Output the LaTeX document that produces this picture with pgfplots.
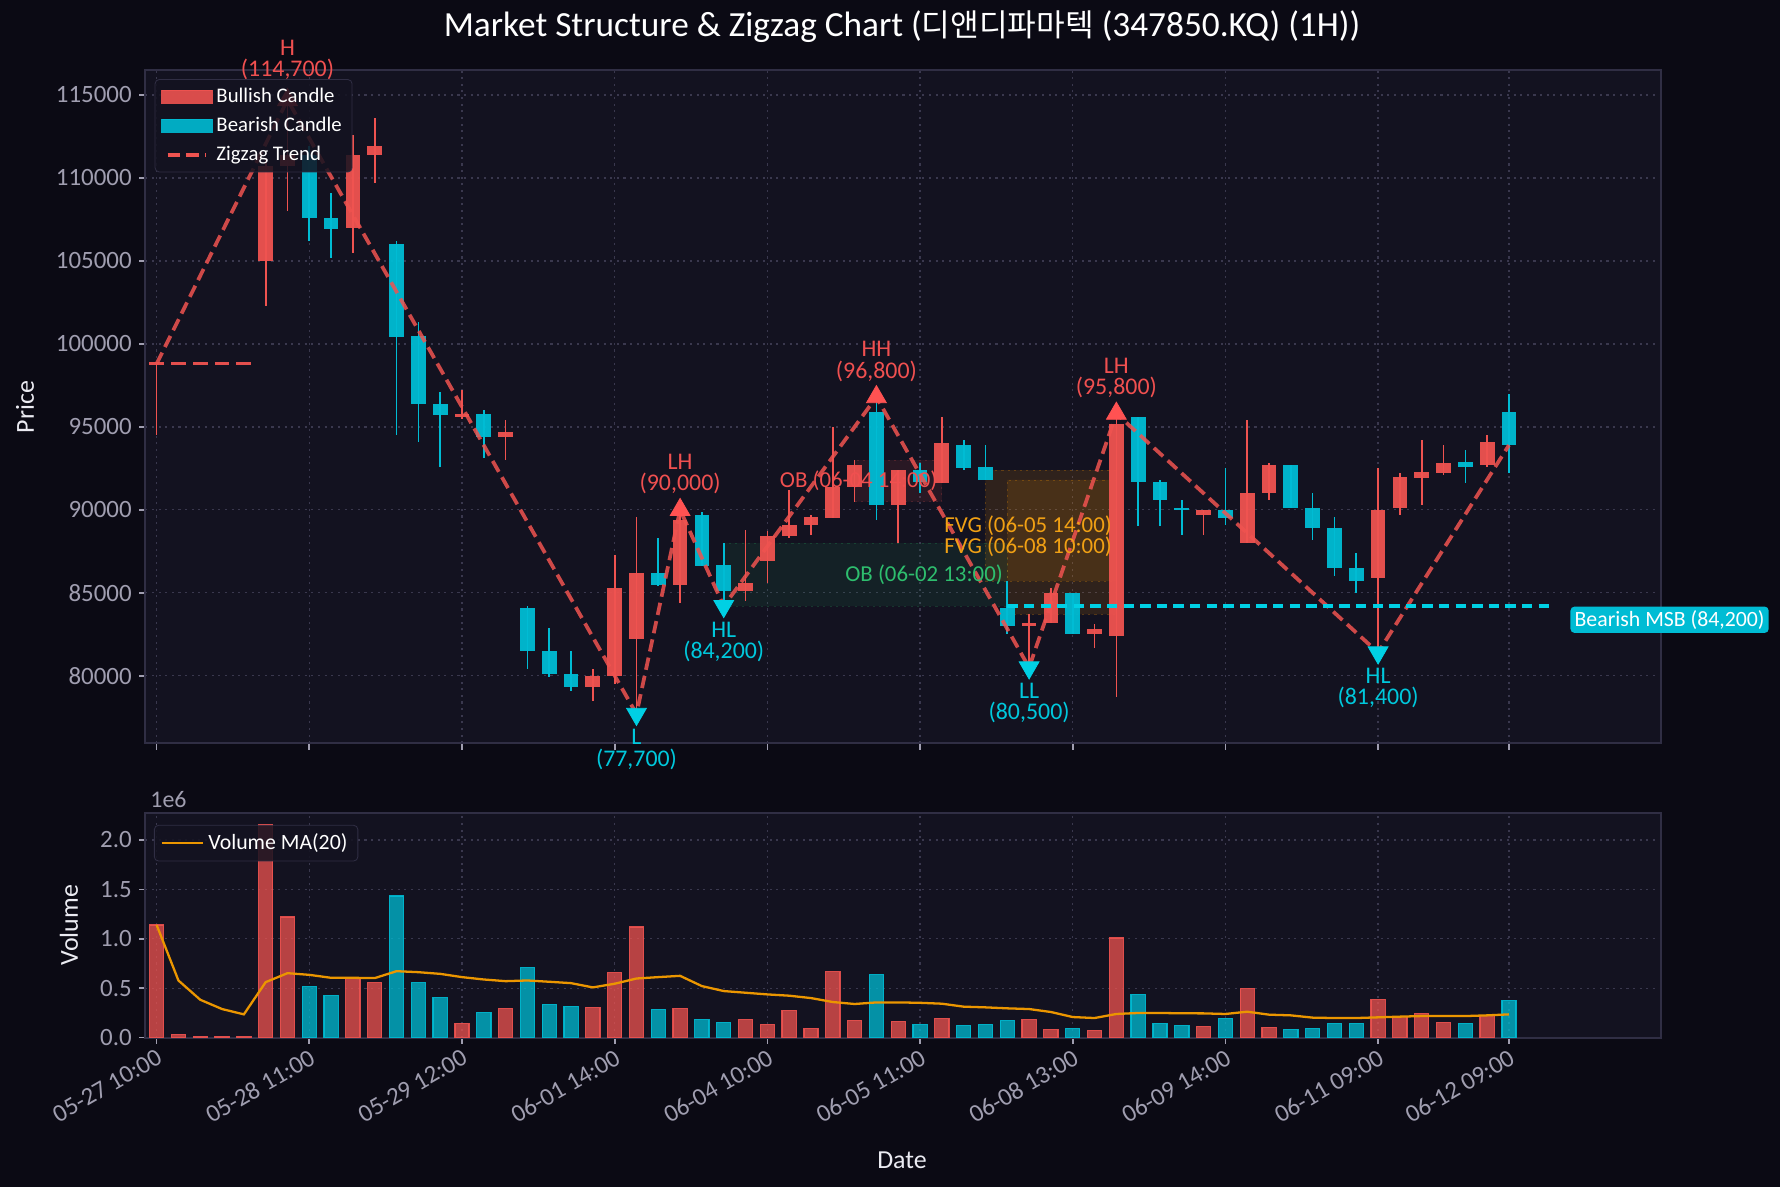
\documentclass[border=0pt]{standalone}
\usepackage{pgfplots}
\usepackage{pgfplotstable}
\pgfplotsset{compat=1.18}
\usepackage{fontspec}
\setmainfont{Carlito}
\newfontfamily\kr{Noto Sans CJK KR}

\definecolor{figbg}{RGB}{11,10,20}
\definecolor{axbg}{RGB}{19,18,32}
\definecolor{spine}{RGB}{48,46,68}
\definecolor{gridc}{RGB}{58,56,78}
\definecolor{tickc}{RGB}{160,158,176}
\definecolor{bull}{RGB}{239,83,80}
\definecolor{bear}{RGB}{0,188,212}
\definecolor{bullmk}{RGB}{255,82,82}
\definecolor{bearmk}{RGB}{0,208,228}
\definecolor{bulltxt}{RGB}{240,80,80}
\definecolor{beartxt}{RGB}{0,200,220}
\definecolor{fvg}{RGB}{255,152,0}
\definecolor{fvgtxt}{RGB}{240,160,20}
\definecolor{obg}{RGB}{38,166,91}
\definecolor{obgtxt}{RGB}{46,190,110}
\definecolor{maline}{RGB}{235,150,0}
\definecolor{labc}{RGB}{235,235,242}

% i O H L C V(1e6)
\pgfplotstableread{
i O H L C V
0 98800 98800 94500 98800 1.14
1 98800 98800 98800 98800 0.03
2 98800 98800 98800 98800 0.01
3 98800 98800 98800 98800 0.01
4 98800 98800 98800 98800 0.01
5 105000 111200 102300 110700 2.16
6 110700 114700 108000 111400 1.22
9 107000 112600 105500 111400 0.605
10 111400 113600 109700 111900 0.555
14 95600 97200 95500 95800 0.141
16 94400 95400 93000 94700 0.292
20 79300 80400 78500 80000 0.303
21 80000 87300 79500 85300 0.655
22 82200 89600 77700 86200 1.119
24 85500 90000 84400 89400 0.292
27 85100 88800 84500 85600 0.182
28 86900 88700 85600 88400 0.131
29 88400 91200 88300 89100 0.272
30 89100 89700 88500 89600 0.091
31 89500 95000 89500 91400 0.666
32 91400 93000 90500 92700 0.171
34 90300 92400 88000 92400 0.161
36 91600 95600 91600 94000 0.192
40 83000 83700 80500 83200 0.182
41 83200 85300 83200 85000 0.081
43 82500 83100 81700 82800 0.071
44 82400 95800 78700 95200 1.008
48 89700 90000 88500 90000 0.111
50 88000 95400 88000 91000 0.494
51 91000 92800 90600 92700 0.101
56 85900 92500 81400 90000 0.383
57 90100 92200 89700 92000 0.212
58 91900 94200 90300 92300 0.242
59 92200 93900 92100 92800 0.151
61 92700 94500 92600 94100 0.222
}\bulltab

\pgfplotstableread{
i O H L C V
7 111400 111900 106200 107600 0.514
8 107600 109100 105200 106900 0.424
11 106000 106200 94500 100400 1.432
12 100500 101300 94100 96400 0.555
13 96400 97100 92600 95700 0.403
15 95800 96000 93100 94400 0.252
17 84100 84200 80400 81500 0.706
18 81500 82900 79900 80100 0.333
19 80100 81500 79100 79300 0.313
23 86200 88300 85400 85500 0.282
25 89700 89900 86600 86600 0.182
26 86700 88000 84200 85100 0.151
33 95900 96800 89400 90300 0.635
35 92400 92800 91000 91700 0.131
37 93900 94200 92400 92500 0.121
38 92600 93900 91800 91800 0.131
39 84100 85700 82500 83000 0.171
42 85000 85000 82500 82500 0.091
45 95600 95600 89000 91700 0.434
46 91700 91800 89000 90600 0.141
47 90100 90600 88500 90000 0.121
49 90000 92500 89100 89500 0.192
52 92700 92700 90100 90100 0.081
53 90100 91000 88200 88900 0.091
54 88900 89600 86000 86500 0.141
55 86500 87400 85000 85700 0.141
60 92900 93600 91600 92600 0.141
62 95900 97000 92200 93900 0.373
}\beartab

\pgfplotstableread{
i M
0 1.14
1 0.578
2 0.383
3 0.289
4 0.235
5 0.561
6 0.652
7 0.635
8 0.605
9 0.605
10 0.602
11 0.672
12 0.662
13 0.645
14 0.612
15 0.588
16 0.571
17 0.578
18 0.565
19 0.551
20 0.508
21 0.545
22 0.598
23 0.612
24 0.625
25 0.521
26 0.471
27 0.454
28 0.437
29 0.424
30 0.400
31 0.360
32 0.340
33 0.356
34 0.356
35 0.352
36 0.343
37 0.313
38 0.306
39 0.296
40 0.289
41 0.259
42 0.208
43 0.198
44 0.239
45 0.249
46 0.249
47 0.246
48 0.245
49 0.239
50 0.262
51 0.232
52 0.225
53 0.202
54 0.198
55 0.198
56 0.205
57 0.212
58 0.218
59 0.218
60 0.218
61 0.225
62 0.235
}\matab

\pgfplotsset{
  myax/.style={
    scale only axis, width=25.662cm, anchor=south west,
    xmin=-0.52, xmax=68.96,
    axis background/.style={fill=axbg},
    axis line style={spine, line width=1pt},
    tick align=outside, tick pos=left,
    major tick length=3pt,
    every tick/.style={tickc, line width=0.8pt},
    grid=major,
    major grid style={gridc, line width=0.6pt, dash pattern=on 1pt off 2.2pt},
    xtick={0,7,14,21,28,35,42,49,56,62},
    ticklabel style={font=\fontsize{12}{14}\selectfont, text=tickc},
    legend cell align=left,
  },
  candle/.style={forget plot, only marks, mark=*, mark size=0pt,
    mark options={draw opacity=0, fill opacity=0}},
}
\tikzset{annot/.style={font=\fontsize{11.5}{13}\selectfont, inner sep=0pt, anchor=center}}

\begin{document}
\begin{tikzpicture}
\fill[figbg] (0,0) rectangle (30.141,20.100);

% ---------------- price axis ----------------
\begin{axis}[myax,
  at={(2.460cm,7.512cm)}, height=11.396cm,
  ymin=75930, ymax=116480,
  ytick={80000,85000,90000,95000,100000,105000,110000,115000},
  scaled y ticks=false,
  yticklabel={\pgfmathprintnumber[fixed,precision=0,1000 sep={},assume math mode=true]{\tick}},
  xticklabels={},
  clip=false,
  legend style={at={(0.0062,0.987)}, anchor=north west, fill=axbg, fill opacity=0.85, text opacity=1,
    draw=spine, rounded corners=2pt, text=white, font=\fontsize{10}{12}\selectfont,
    row sep=1.6pt, inner xsep=3pt, inner ysep=2pt},
]
% order blocks and FVGs
\addplot[forget plot, fill=obg, fill opacity=0.10, draw=obg, draw opacity=0.25, dash pattern=on 1pt off 2pt]
  coordinates {(26,84200) (39,84200) (39,88000) (26,88000) (26,84200)};
\addplot[forget plot, fill=bull, fill opacity=0.10, draw=bull, draw opacity=0.2, dash pattern=on 1pt off 2pt]
  coordinates {(32,90500) (36,90500) (36,93000) (32,93000) (32,90500)};
\addplot[forget plot, fill=fvg, fill opacity=0.12, draw=fvg, draw opacity=0.25, dash pattern=on 1pt off 2pt]
  coordinates {(38,85700) (44,85700) (44,92400) (38,92400) (38,85700)};
\addplot[forget plot, fill=fvg, fill opacity=0.12, draw=fvg, draw opacity=0.25, dash pattern=on 1pt off 2pt]
  coordinates {(39,83700) (44,83700) (44,91800) (39,91800) (39,83700)};

% wicks
\addplot[candle, error bars/.cd, y dir=both, y explicit, error mark=none,
  error bar style={line width=0.8pt, draw=bull}]
  table[x=i, y expr={(\thisrow{H}+\thisrow{L})/2}, y error expr={(\thisrow{H}-\thisrow{L})/2}] {\bulltab};
\addplot[candle, error bars/.cd, y dir=both, y explicit, error mark=none,
  error bar style={line width=0.8pt, draw=bear}]
  table[x=i, y expr={(\thisrow{H}+\thisrow{L})/2}, y error expr={(\thisrow{H}-\thisrow{L})/2}] {\beartab};
% bodies
\addplot[candle, error bars/.cd, y dir=both, y explicit, error mark=none,
  error bar style={line width=0.25cm, draw=bull, draw opacity=0.95}]
  table[x=i, y expr={(\thisrow{O}+\thisrow{C})/2}, y error expr={max(abs(\thisrow{C}-\thisrow{O})/2,80)}] {\bulltab};
\addplot[candle, error bars/.cd, y dir=both, y explicit, error mark=none,
  error bar style={line width=0.25cm, draw=bear, draw opacity=0.95}]
  table[x=i, y expr={(\thisrow{O}+\thisrow{C})/2}, y error expr={max(abs(\thisrow{C}-\thisrow{O})/2,80)}] {\beartab};

% zigzag
\addplot[forget plot, draw=bull, draw opacity=0.85, line width=1.8pt, dash pattern=on 6pt off 3pt]
  coordinates {(0,98800) (6,114700) (22,77700) (24,90000) (26,84200) (33,96800) (40,80500) (44,95800) (56,81400) (62,93900)};
% bearish MSB line
\addplot[forget plot, draw=bearmk, line width=1.6pt, dash pattern=on 5pt off 3pt]
  coordinates {(39,84200) (64,84200)};
% swing markers
\addplot[forget plot, only marks, mark=triangle*, mark size=5.5pt, color=bullmk]
  coordinates {(6,114700) (24,90000) (33,96800) (44,95800)};
\addplot[forget plot, only marks, mark=triangle*, mark size=5.5pt, color=bearmk, mark options={rotate=180}]
  coordinates {(22,77700) (26,84200) (40,80500) (56,81400)};

% zone labels
\node[font=\fontsize{11}{13}\selectfont, text=obgtxt, anchor=east, inner sep=0pt, xshift=-2pt] at (axis cs:39,86100) {OB (06-02 13:00)};
\node[font=\fontsize{11}{13}\selectfont, text=bulltxt, anchor=east, inner sep=0pt, xshift=-2pt] at (axis cs:36,91750) {OB (06-04 14:00)};
\node[font=\fontsize{11}{13}\selectfont, text=fvgtxt, anchor=east, inner sep=0pt, xshift=-2pt] at (axis cs:44,89050) {FVG (06-05 14:00)};
\node[font=\fontsize{11}{13}\selectfont, text=fvgtxt, anchor=east, inner sep=0pt, xshift=-2pt] at (axis cs:44,87750) {FVG (06-08 10:00)};

% swing labels (highs)
\node[annot, text=bulltxt, yshift=25pt] at (axis cs:6,114700) {H};
\node[annot, text=bulltxt, yshift=14.5pt] at (axis cs:6,114700) {(114,700)};
\node[annot, text=bulltxt, yshift=23.1pt] at (axis cs:24,90000) {LH};
\node[annot, text=bulltxt, yshift=12.5pt] at (axis cs:24,90000) {(90,000)};
\node[annot, text=bulltxt, yshift=23.1pt] at (axis cs:33,96800) {HH};
\node[annot, text=bulltxt, yshift=12.5pt] at (axis cs:33,96800) {(96,800)};
\node[annot, text=bulltxt, yshift=23.1pt] at (axis cs:44,95800) {LH};
\node[annot, text=bulltxt, yshift=12.5pt] at (axis cs:44,95800) {(95,800)};
% swing labels (lows)
\node[annot, text=beartxt, yshift=-11.2pt] at (axis cs:22,77700) {L};
\node[annot, text=beartxt, yshift=-21.8pt] at (axis cs:22,77700) {(77,700)};
\node[annot, text=beartxt, yshift=-11.2pt] at (axis cs:26,84200) {HL};
\node[annot, text=beartxt, yshift=-21.8pt] at (axis cs:26,84200) {(84,200)};
\node[annot, text=beartxt, yshift=-11.2pt] at (axis cs:40,80500) {LL};
\node[annot, text=beartxt, yshift=-21.8pt] at (axis cs:40,80500) {(80,500)};
\node[annot, text=beartxt, yshift=-11.2pt] at (axis cs:56,81400) {HL};
\node[annot, text=beartxt, yshift=-21.8pt] at (axis cs:56,81400) {(81,400)};

% MSB tag
\node[anchor=north west, fill=bear, text=white, rounded corners=2pt, inner xsep=2pt, inner ysep=1.8pt,
  font=\fontsize{10.5}{12}\selectfont] at (axis cs:64.8,84200) {Bearish MSB (84,200)};

% legend
\addlegendimage{legend image code/.code={\fill[bull, opacity=0.9, sharp corners] (0cm,-0.11cm) rectangle (0.85cm,0.11cm);}}
\addlegendentry{Bullish Candle}
\addlegendimage{legend image code/.code={\fill[bear, opacity=0.9, sharp corners] (0cm,-0.11cm) rectangle (0.85cm,0.11cm);}}
\addlegendentry{Bearish Candle}
\addlegendimage{legend image code/.code={\draw[bull, line width=1.8pt, dash pattern=on 6pt off 3pt, sharp corners] (0.1cm,0cm) -- (0.75cm,0cm);}}
\addlegendentry{Zigzag Trend}
\end{axis}

% ---------------- volume axis ----------------
\begin{axis}[myax,
  at={(2.460cm,2.530cm)}, height=3.807cm,
  ymin=0, ymax=2.275,
  ytick={0,0.5,1,1.5,2},
  yticklabel={\pgfmathprintnumber[fixed,fixed zerofill,precision=1,assume math mode=true]{\tick}},
  xticklabels={05-27 10:00,05-28 11:00,05-29 12:00,06-01 14:00,06-04 10:00,06-05 11:00,06-08 13:00,06-09 14:00,06-11 09:00,06-12 09:00},
  xticklabel style={rotate=30, anchor=north east, inner sep=1.5pt},
  legend style={at={(0.0057,0.946)}, anchor=north west, fill=axbg, fill opacity=0.85, text opacity=1,
    draw=spine, rounded corners=2pt, text=white, font=\fontsize{10.5}{12}\selectfont,
    inner xsep=3pt, inner ysep=2pt},
]
\addplot[forget plot, ybar, bar width=0.65, bar shift=0pt, fill=bull, fill opacity=0.75, draw=bull, draw opacity=0.9, line width=0.6pt]
  table[x=i, y=V] {\bulltab};
\addplot[forget plot, ybar, bar width=0.65, bar shift=0pt, fill=bear, fill opacity=0.75, draw=bear, draw opacity=0.9, line width=0.6pt]
  table[x=i, y=V] {\beartab};
\addplot[draw=maline, line width=1.1pt, mark=none,
  legend image code/.code={\draw[maline, line width=1.1pt, sharp corners] (0.05cm,0cm) -- (0.75cm,0cm);}]
  table[x=i, y=M] {\matab};
\addlegendentry{Volume MA(20)}
\end{axis}

% ---------------- titles and labels ----------------
\node[text=white, font=\fontsize{17}{20}\selectfont] at (15.274,19.643)
  {Market Structure \& Zigzag Chart ({\kr\fontsize{15}{18}\selectfont 디앤디파마텍} (347850.KQ) (1H))};
\node[text=labc, font=\fontsize{12.5}{15}\selectfont] at (15.274,0.457) {Date};
\node[text=labc, font=\fontsize{12.5}{15}\selectfont, rotate=90] at (0.423,13.210) {Price};
\node[text=labc, font=\fontsize{12.5}{15}\selectfont, rotate=90] at (1.168,4.433) {Volume};
\node[text=tickc, font=\fontsize{11.5}{13}\selectfont, anchor=west, inner sep=0pt] at (2.54,6.553) {1e6};

\pgfresetboundingbox
\path[use as bounding box] (0,0) rectangle (30.141,20.100);
\end{tikzpicture}
\end{document}
